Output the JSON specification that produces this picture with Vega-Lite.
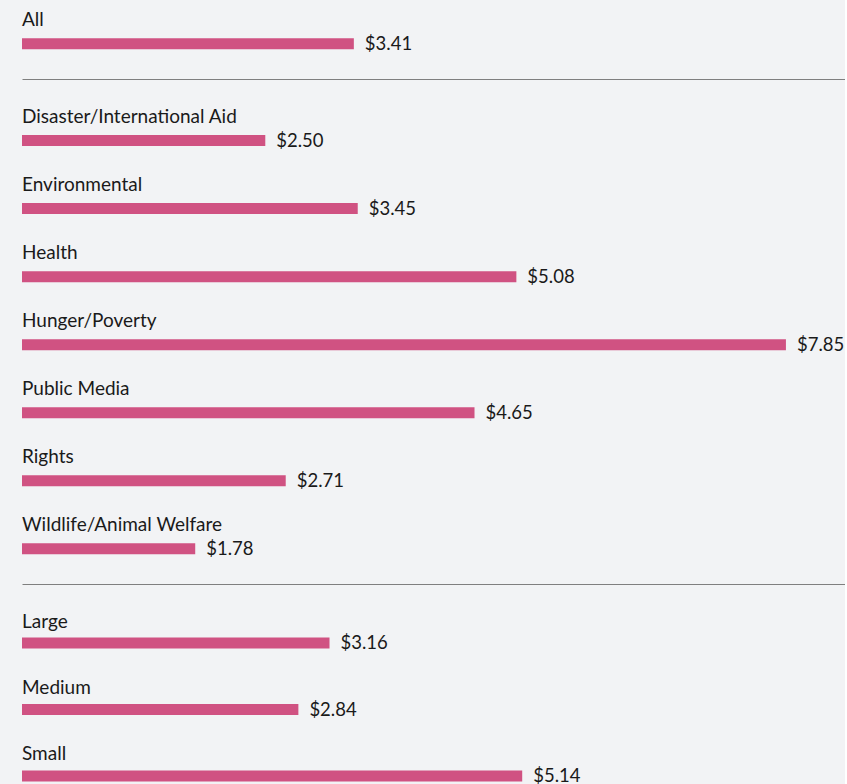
{
  "$schema": "https://vega.github.io/schema/vega-lite/v6.json",
  "background": "#f2f3f5",
  "padding": {"left": 22, "top": 0, "right": 0, "bottom": 0},
  "spacing": 0,
  "bounds": "flush",
  "data": {"values": [
    {"group": "total", "category": "All", "value": 3.41},
    {"group": "cause", "category": "Disaster/International Aid", "value": 2.50},
    {"group": "cause", "category": "Environmental", "value": 3.45},
    {"group": "cause", "category": "Health", "value": 5.08},
    {"group": "cause", "category": "Hunger/Poverty", "value": 7.85},
    {"group": "cause", "category": "Public Media", "value": 4.65},
    {"group": "cause", "category": "Rights", "value": 2.71},
    {"group": "cause", "category": "Wildlife/Animal Welfare", "value": 1.78},
    {"group": "size", "category": "Large", "value": 3.16},
    {"group": "size", "category": "Medium", "value": 2.84},
    {"group": "size", "category": "Small", "value": 5.14}
  ]},
  "vconcat": [
    {
      "width": 823,
      "height": 79,
      "transform": [{"filter": "datum.group === 'total'"}],
      "encoding": {
        "y": {"field": "category", "type": "nominal", "sort": null, "axis": null,
              "scale": {"paddingInner": 0, "paddingOuter": 0.081, "align": 0.89}},
        "x": {"field": "value", "type": "quantitative", "axis": null,
              "scale": {"domain": [0, 8.457], "nice": false, "zero": true}}
      },
      "layer": [
        {"mark": {"type": "bar", "size": 11, "color": "#d05282"}},
        {"mark": {"type": "text", "align": "left", "baseline": "alphabetic", "dy": -17.5, "font": "Lato", "fontSize": 19, "color": "#1a1a1a"},
         "encoding": {"x": {"datum": 0}, "text": {"field": "category"}}},
        {"mark": {"type": "text", "align": "left", "baseline": "alphabetic", "dx": 11, "dy": 6, "font": "Lato", "fontSize": 18.5, "color": "#1a1a1a"},
         "encoding": {"text": {"field": "value", "type": "quantitative", "format": "$.2f"}}}
      ]
    },
    {
      "width": 823,
      "height": 505,
      "transform": [{"filter": "datum.group === 'cause'"}],
      "encoding": {
        "y": {"field": "category", "type": "nominal", "sort": null, "axis": null,
              "scale": {"paddingInner": 0, "paddingOuter": 0.2105, "align": 0.96}},
        "x": {"field": "value", "type": "quantitative",
              "axis": {"orient": "top", "domain": true, "domainColor": "#7f7f7f", "domainWidth": 1, "ticks": false, "labels": false, "title": null, "grid": false},
              "scale": {"domain": [0, 8.457], "nice": false, "zero": true}}
      },
      "layer": [
        {"mark": {"type": "bar", "size": 11, "color": "#d05282"}},
        {"mark": {"type": "text", "align": "left", "baseline": "alphabetic", "dy": -17.5, "font": "Lato", "fontSize": 19, "color": "#1a1a1a"},
         "encoding": {"x": {"datum": 0}, "text": {"field": "category"}}},
        {"mark": {"type": "text", "align": "left", "baseline": "alphabetic", "dx": 11, "dy": 6, "font": "Lato", "fontSize": 18.5, "color": "#1a1a1a"},
         "encoding": {"text": {"field": "value", "type": "quantitative", "format": "$.2f"}}}
      ]
    },
    {
      "width": 823,
      "height": 250,
      "transform": [{"filter": "datum.group === 'size'"}],
      "encoding": {
        "y": {"field": "category", "type": "nominal", "sort": null, "axis": null,
              "scale": {"paddingInner": 0, "paddingOuter": 0.38, "align": 0.51}},
        "x": {"field": "value", "type": "quantitative",
              "axis": {"orient": "top", "domain": true, "domainColor": "#7f7f7f", "domainWidth": 1, "ticks": false, "labels": false, "title": null, "grid": false},
              "scale": {"domain": [0, 8.457], "nice": false, "zero": true}}
      },
      "layer": [
        {"mark": {"type": "bar", "size": 11, "color": "#d05282"}},
        {"mark": {"type": "text", "align": "left", "baseline": "alphabetic", "dy": -15.5, "font": "Lato", "fontSize": 19, "color": "#1a1a1a"},
         "encoding": {"x": {"datum": 0}, "text": {"field": "category"}}},
        {"mark": {"type": "text", "align": "left", "baseline": "alphabetic", "dx": 11, "dy": 6, "font": "Lato", "fontSize": 18.5, "color": "#1a1a1a"},
         "encoding": {"text": {"field": "value", "type": "quantitative", "format": "$.2f"}}}
      ]
    }
  ],
  "config": {"view": {"stroke": null}}
}
